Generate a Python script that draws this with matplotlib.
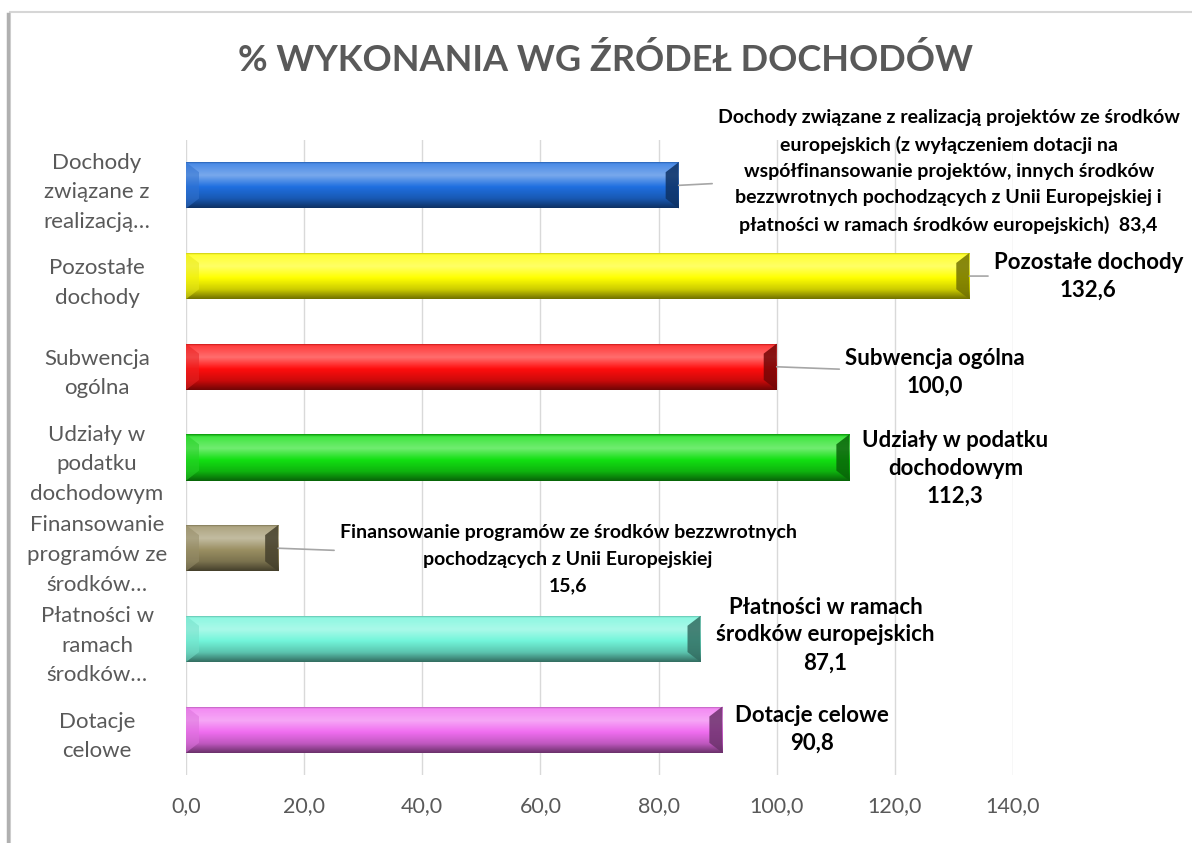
import numpy as np
import matplotlib
matplotlib.use('Agg')
import matplotlib.pyplot as plt
from matplotlib.patches import Rectangle, Polygon
from matplotlib.colors import to_rgb
from matplotlib.lines import Line2D

plt.rcParams['font.family'] = ['Lato', 'DejaVu Sans']

# data (top to bottom as in the chart)
categories = ['Dochody\nzwiązane z\nrealizacją…', 'Pozostałe\ndochody', 'Subwencja\nogólna',
              'Udziały w\npodatku\ndochodowym', 'Finansowanie\nprogramów ze\nśrodków…',
              'Płatności w\nramach\nśrodków…', 'Dotacje\ncelowe']
values = [83.4, 132.6, 100.0, 112.3, 15.6, 87.1, 90.8]
label_names = ['Dochody związane z realizacją projektów ze środków\neuropejskich (z wyłączeniem dotacji na\n'
               'współfinansowanie projektów, innych środków\nbezzwrotnych pochodzących z Unii Europejskiej i\n'
               'płatności w ramach środków europejskich)',
               'Pozostałe dochody', 'Subwencja ogólna', 'Udziały w podatku\ndochodowym',
               'Finansowanie programów ze środków bezzwrotnych\npochodzących z Unii Europejskiej',
               'Płatności w ramach\nśrodków europejskich', 'Dotacje celowe']
colors = ['#1f6fe0', '#ffff00', '#ff0d0d', '#12e012', '#9a8f62', '#72f5da', '#f06ef0']
ticks = [0, 20, 40, 60, 80, 100, 120, 140]

# label placement (offsets in px from bar end), sizes, leader lines
offsets = [(270, -14), (119, 0), (158, 6), (106, 11), (290, 11), (125, -4), (90, 0)]
lab_sizes = [14, 16, 16, 16, 14, 16, 16]
lab_spacing = [1.65, 1.4, 1.4, 1.4, 1.7, 1.4, 1.4]
leaders = [True, True, True, False, True, False, False]


def lighten(c, f):
    c = np.array(c)
    return c + (1 - c) * f


fig = plt.figure(figsize=(11.92, 8.43), dpi=100)
ax = fig.add_axes([186 / 1192, 1 - 775 / 843, (1013 - 186) / 1192, (775 - 140) / 843])

# chart frame
fig.add_artist(Rectangle((10 / 1192, -0.1), 1.2, 1 - 12 / 843 + 0.1, transform=fig.transFigure,
                         fill=False, edgecolor='#d6d6d6', lw=1.5))
fig.add_artist(Line2D([8 / 1192, 8 / 1192], [0, 1 - 14 / 843], transform=fig.transFigure,
                      color='#b0b0b0', lw=2.5))

y = np.arange(len(values))
h = 0.51
bars = ax.barh(y, values, height=h, color=colors, zorder=2)

prof_t = [0.0, 0.05, 0.3, 0.55, 0.8, 1.0]
for bar, c in zip(bars, colors):
    base = np.array(to_rgb(c))
    keys = [base * 0.7, lighten(base, 0.2), lighten(base, 0.4), base, base * 0.8, base * 0.45]
    t = np.linspace(0, 1, 60)
    grad = np.stack([np.interp(t, prof_t, [k[j] for k in keys]) for j in range(3)], axis=1)
    img = np.clip(grad[:, None, :], 0, 1)
    x0 = bar.get_x()
    x1 = x0 + bar.get_width()
    y0 = bar.get_y()
    y1 = y0 + bar.get_height()
    im = ax.imshow(img, extent=(x0, x1, y1, y0), origin='upper', aspect='auto', zorder=3,
                   interpolation='bilinear')
    im.set_clip_path(bar)
    b = 2.2
    d = 0.11
    ax.add_patch(Polygon([(x0, y0), (x0 + b, y0 + d), (x0 + b, y1 - d), (x0, y1)],
                         closed=True, facecolor=lighten(base * 0.9, 0.1), alpha=0.55,
                         edgecolor='none', zorder=4))
    ax.add_patch(Polygon([(x1, y0), (x1 - b, y0 + d), (x1 - b, y1 - d), (x1, y1)],
                         closed=True, facecolor=base * 0.45, alpha=0.85,
                         edgecolor='none', zorder=4))

for i, (v, name) in enumerate(zip(values, label_names)):
    txt = name + ('  ' if i == 0 else '\n') + f'{v:.1f}'.replace('.', ',')
    arrow = dict(arrowstyle='-', color='#a6a6a6', lw=1.2, shrinkA=2, shrinkB=0) if leaders[i] else None
    ax.annotate(txt, xy=(v, i), xytext=(offsets[i][0] * 0.72, -offsets[i][1] * 0.72),
                textcoords='offset points', ha='center', va='center', fontsize=lab_sizes[i],
                fontweight='bold', color='black', linespacing=lab_spacing[i], arrowprops=arrow,
                annotation_clip=False, zorder=6)

ax.set_xlim(0, 140)
ax.set_ylim(len(values) - 0.5, -0.5)
ax.set_xticks(ticks)
ax.set_xticklabels([f'{t:.1f}'.replace('.', ',') for t in ticks])
ax.set_yticks(y)
ax.set_yticklabels(categories)
ax.grid(axis='x', color='#d9d9d9', lw=1, zorder=0)
ax.set_axisbelow(True)
for s in ax.spines.values():
    s.set_visible(False)
ax.tick_params(axis='x', length=0, pad=15, labelsize=15.5, labelcolor='#595959')
ax.tick_params(axis='y', length=0, pad=64, labelsize=16, labelcolor='#595959')
for lbl in ax.get_yticklabels():
    lbl.set_ha('center')
    lbl.set_linespacing(1.6)

fig.text(606 / 1192, 1 - 60 / 843, '% WYKONANIA WG ŹRÓDEŁ DOCHODÓW', ha='center', va='center',
         fontsize=26, fontweight='bold', color='#595959')

fig.savefig('out.png', dpi=100, facecolor='white')
